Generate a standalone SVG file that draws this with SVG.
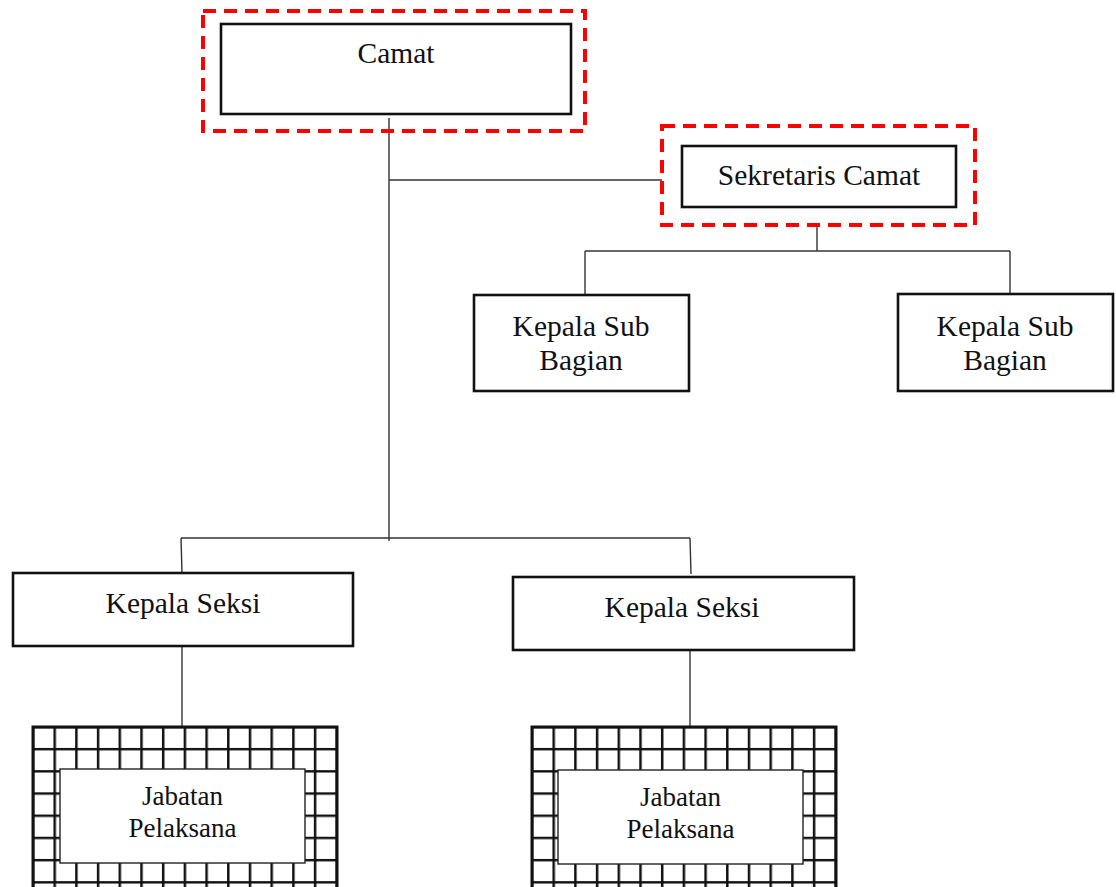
<svg xmlns="http://www.w3.org/2000/svg" width="1116" height="887" viewBox="0 0 1116 887">
<style>
.box{fill:#fff;stroke:#111;stroke-width:2.6}
.dash{fill:none;stroke:#ff0000;stroke-width:4;stroke-dasharray:13 8}
.conn{fill:none;stroke:#333;stroke-width:1.4}
.t{font-family:"Liberation Serif","DejaVu Serif",serif;font-size:29.5px;fill:#111;text-anchor:middle}
.ts{font-family:"Liberation Serif","DejaVu Serif",serif;font-size:27px;fill:#111;text-anchor:middle}
.inner{fill:#fff;stroke:#222;stroke-width:1.4}
</style>
<defs>
<pattern id="grid" patternUnits="userSpaceOnUse" x="-1.25" y="-1.25" width="21.7" height="22.2">
<rect width="21.7" height="22.2" fill="#fff"/>
<path d="M1.25 0V22.2M0 1.25H21.7" stroke="#111" stroke-width="2.5" fill="none"/>
</pattern>
</defs>
<rect width="1116" height="887" fill="#fff"/>
<g id="connectors">
<path class="conn" d="M389 118V541"/>
<path class="conn" d="M389 180H662"/>
<path class="conn" d="M817 226V251"/>
<path class="conn" d="M585 251H1010"/>
<path class="conn" d="M585 251V295"/>
<path class="conn" d="M1010 251V293"/>
<path class="conn" d="M181 538H690"/>
<path class="conn" d="M181 538L182 573"/>
<path class="conn" d="M690 538L691 574"/>
<path class="conn" d="M182 646V727"/>
<path class="conn" d="M690 650V727"/>
</g>
<g id="camat">
<rect class="dash" x="203" y="11" width="382" height="120"/>
<rect class="box" x="221" y="24" width="350" height="90"/>
<text class="t" x="396" y="63">Camat</text>
</g>
<g id="sekretaris">
<rect class="dash" x="662" y="126" width="313" height="99"/>
<rect class="box" x="682" y="146" width="274" height="61"/>
<text class="t" x="819" y="185">Sekretaris Camat</text>
</g>
<g id="kasubag1">
<rect class="box" x="474" y="295" width="215" height="96"/>
<text class="t" x="581" y="336">Kepala Sub</text>
<text class="t" x="581" y="370">Bagian</text>
</g>
<g id="kasubag2">
<rect class="box" x="898" y="294" width="215" height="97"/>
<text class="t" x="1005" y="336">Kepala Sub</text>
<text class="t" x="1005" y="370">Bagian</text>
</g>
<g id="kasi1">
<rect class="box" x="13" y="573" width="340" height="73"/>
<text class="t" x="183" y="613">Kepala Seksi</text>
</g>
<g id="kasi2">
<rect class="box" x="513" y="577" width="341" height="73"/>
<text class="t" x="682" y="617">Kepala Seksi</text>
</g>
<g id="jabatan1" transform="translate(33,727)">
<rect x="0" y="0" width="304" height="175" fill="url(#grid)" stroke="#111" stroke-width="3"/>
<rect class="inner" x="27" y="42" width="245" height="94"/>
<text class="ts" x="149.5" y="78">Jabatan</text>
<text class="ts" x="149.5" y="110">Pelaksana</text>
</g>
<g id="jabatan2" transform="translate(532,727)">
<rect x="0" y="0" width="304" height="175" fill="url(#grid)" stroke="#111" stroke-width="3"/>
<rect class="inner" x="26" y="43" width="245" height="94"/>
<text class="ts" x="148.5" y="79">Jabatan</text>
<text class="ts" x="148.5" y="111">Pelaksana</text>
</g>
</svg>
